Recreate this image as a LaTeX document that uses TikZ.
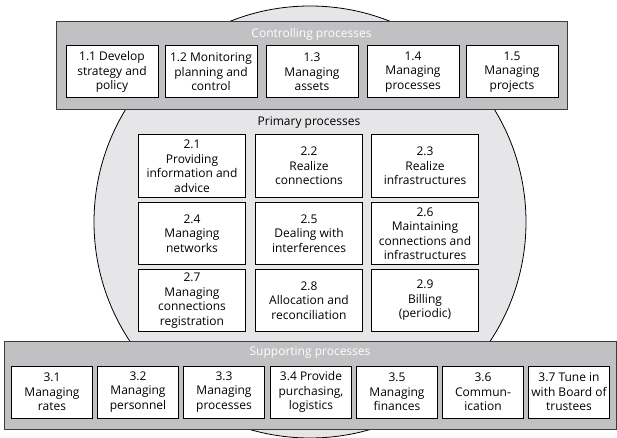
\documentclass[tikz,border=0pt]{standalone}
\usepackage{fontspec}
\setmainfont{Open Sans}
\usetikzlibrary{positioning}

\definecolor{bandgray}{RGB}{193,193,195}
\definecolor{discgray}{RGB}{230,230,232}
\definecolor{bandedge}{RGB}{60,60,60}

\tikzset{
    proc/.style={draw, fill=white, line width=1pt, align=center,
        inner sep=0pt, font=\fontsize{12}{14.5}\selectfont},
    ctrlbox/.style={proc, minimum width=92, minimum height=52},
    primbox/.style={proc, minimum width=107, minimum height=62},
    suppbox/.style={proc, minimum width=81, minimum height=52},
    band/.style={draw=bandedge, fill=bandgray, line width=1pt, inner sep=0pt},
    bandtitle/.style={text=white, font=\fontsize{12}{14.5}\selectfont},
}

\begin{document}
\begin{tikzpicture}[x=1pt, y=-1pt]
    \useasboundingbox (0,0) rectangle (617,438);

    % the disc behind everything
    \draw[fill=discgray, line width=0.8pt] (310,222) circle (216pt);

    % controlling processes
    \node[band, minimum width=511, minimum height=88] (ctrl) at (311.5,66) {};
    \node[bandtitle] (ctrltitle) at (311.5,34) {Controlling processes};
    \node[ctrlbox] (c1) at (112,72) {1.1 Develop\\strategy and\\policy};
    \node[ctrlbox] (c2) at (211,72) {1.2 Monitoring\\planning and\\control};
    \node[ctrlbox] (c3) at (312,72) {1.3\\Managing\\assets};
    \node[ctrlbox] (c4) at (413,72) {1.4\\Managing\\processes};
    \node[ctrlbox] (c5) at (512,72) {1.5\\Managing\\projects};

    % primary processes
    \node[font=\fontsize{12}{14.5}\selectfont] (primtitle) at (309,123) {Primary processes};
    \node[primbox] (p1) at (192,166) {2.1\\Providing\\information and\\advice};
    \node[primbox] (p2) at (309,166) {2.2\\Realize\\connections};
    \node[primbox] (p3) at (425,166) {2.3\\Realize\\infrastructures};
    \node[primbox] (p4) at (192,233.5) {2.4\\Managing\\networks};
    \node[primbox] (p5) at (309,233.5) {2.5\\Dealing with\\interferences};
    \node[primbox] (p6) at (425,233.5) {2.6\\Maintaining\\connections and\\infrastructures};
    \node[primbox] (p7) at (192,300.5) {2.7\\Managing\\connections\\registration};
    \node[primbox] (p8) at (309,300.5) {2.8\\Allocation and\\reconciliation};
    \node[primbox] (p9) at (425,300.5) {2.9\\Billing\\(periodic)};

    % supporting processes
    \node[band, minimum width=612, minimum height=88] (supp) at (310,385) {};
    \node[bandtitle] (supptitle) at (310,353) {Supporting processes};
    \node[suppbox] (s1) at (52,392) {3.1\\Managing\\rates};
    \node[suppbox] (s2) at (138,392) {3.2\\Managing\\personnel};
    \node[suppbox] (s3) at (224,392) {3.3\\Managing\\processes};
    \node[suppbox] (s4) at (311,392) {3.4 Provide\\purchasing,\\logistics};
    \node[suppbox] (s5) at (397,392) {3.5\\Managing\\finances};
    \node[suppbox] (s6) at (483,392) {3.6\\Commun-\\ication};
    \node[suppbox] (s7) at (569,392) {3.7 Tune in\\with Board of\\trustees};
\end{tikzpicture}
\end{document}
